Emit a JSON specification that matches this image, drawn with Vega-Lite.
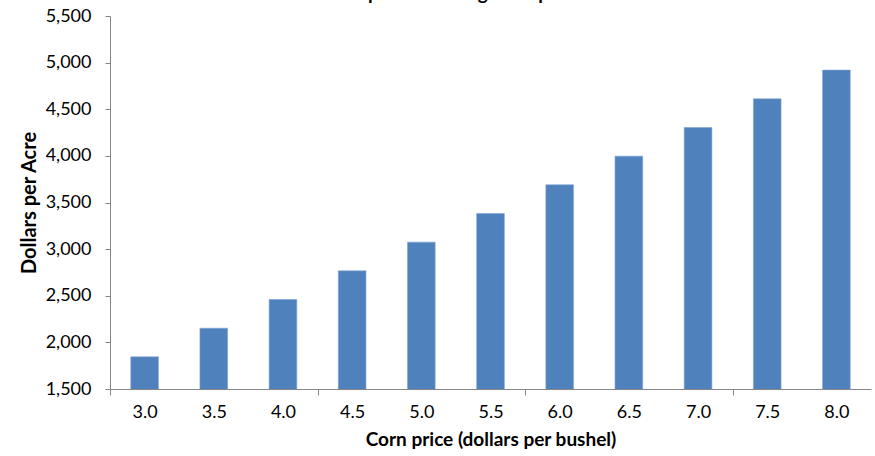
{
  "$schema": "https://vega.github.io/schema/vega-lite/v6.json",
  "autosize": "none",
  "width": 761,
  "height": 373,
  "padding": {"left": 110, "top": 16, "right": 4, "bottom": 67},
  "background": "white",
  "config": {"view": {"stroke": null}, "font": "Lato"},
  "title": {
    "text": "Gross Returns per Acre using Corn price",
    "fontSize": 19,
    "font": "Lato",
    "fontWeight": "bold",
    "color": "black",
    "anchor": "middle",
    "baseline": "alphabetic",
    "offset": 0,
    "dy": 12,
    "dx": -78
  },
  "data": {
    "values": [
      {"price": "3.0", "dollars": 1845},
      {"price": "3.5", "dollars": 2152},
      {"price": "4.0", "dollars": 2460},
      {"price": "4.5", "dollars": 2767},
      {"price": "5.0", "dollars": 3075},
      {"price": "5.5", "dollars": 3382},
      {"price": "6.0", "dollars": 3690},
      {"price": "6.5", "dollars": 3997},
      {"price": "7.0", "dollars": 4305},
      {"price": "7.5", "dollars": 4612},
      {"price": "8.0", "dollars": 4920}
    ]
  },
  "mark": {"type": "bar", "color": "#4F81BD", "stroke": "#7FA3D3", "strokeWidth": 0.6, "clip": true},
  "encoding": {
    "x": {
      "field": "price",
      "type": "ordinal",
      "sort": null,
      "scale": {"paddingInner": 0.6, "paddingOuter": 0.3},
      "axis": {
        "title": "Corn price (dollars per bushel)",
        "titleFontSize": 19,
        "titleFontWeight": "bold",
        "titleColor": "black",
        "titlePadding": 9,
        "labelAngle": 0,
        "labelFontSize": 18,
        "labelColor": "black",
        "labelPadding": 8,
        "tickSize": 6,
        "tickColor": "#868686",
        "tickOffset": -34.6,
        "labelOffset": 34.6,
        "tickOpacity": {"condition": {"test": "indexof(['3.0','4.5','6.0','7.5'], datum.value) >= 0", "value": 1}, "value": 0},
        "domainColor": "#868686",
        "grid": false
      }
    },
    "y": {
      "field": "dollars",
      "type": "quantitative",
      "scale": {"domain": [1500, 5500], "nice": false, "zero": false},
      "axis": {
        "title": "Dollars per Acre",
        "titleFontSize": 20,
        "titleFontWeight": "bold",
        "titleColor": "black",
        "titlePadding": 6,
        "values": [1500, 2000, 2500, 3000, 3500, 4000, 4500, 5000, 5500],
        "format": ",.0f",
        "labelFontSize": 18,
        "labelColor": "black",
        "labelPadding": 14,
        "tickSize": 5,
        "tickColor": "#868686",
        "domainColor": "#868686",
        "grid": false
      }
    }
  }
}
